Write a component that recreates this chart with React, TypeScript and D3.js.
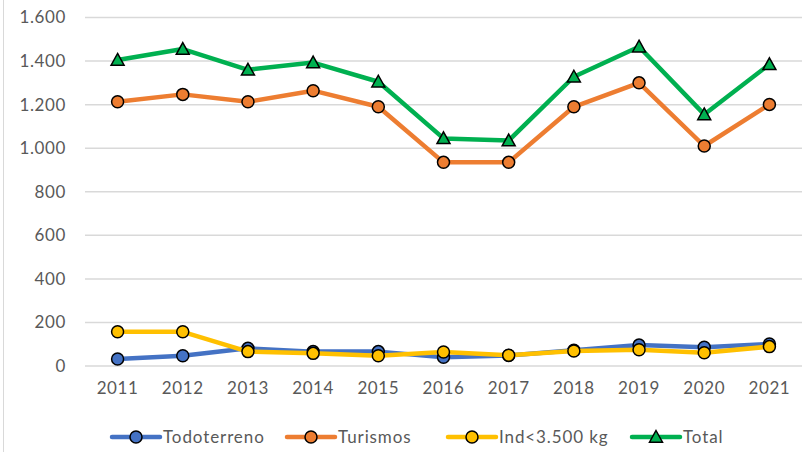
import React from "react";
import * as d3 from "d3";

const years = ["2011","2012","2013","2014","2015","2016","2017","2018","2019","2020","2021"];
const todoterreno = [32, 47, 81, 66, 66, 40, 48, 72, 96, 86, 101];
const turismos = [1213, 1247, 1213, 1264, 1190, 935, 935, 1190, 1300, 1010, 1201];
const ind3500 = [157, 157, 66, 58, 47, 64, 49, 69, 75, 61, 89];
const total = [1405, 1455, 1360, 1393, 1305, 1045, 1035, 1328, 1466, 1155, 1385];
const yTicks = [0, 200, 400, 600, 800, 1000, 1200, 1400, 1600];

const seriesList = [
  { name: "Todoterreno", values: todoterreno, color: "#4472C4", marker: "circle" },
  { name: "Turismos", values: turismos, color: "#ED7D31", marker: "circle" },
  { name: "Ind<3.500 kg", values: ind3500, color: "#FFC000", marker: "circle" },
  { name: "Total", values: total, color: "#00B050", marker: "triangle" },
];
const legendX = [112, 287, 448, 632];

const W = 808, H = 452;
const left = 85, right = 802, top = 17.5, bottom = 366;
const FONT = "Lato, 'Open Sans', sans-serif";
const TXT = "#595959";

function fmt(v: number) {
  return d3.format(",")(v).replace(/,/g, ".");
}

function Marker({ type, x, y, color }: { type: string; x: number; y: number; color: string }) {
  if (type === "triangle") {
    const s = 6.5;
    const p = `M${x},${y - s} L${x + s},${y + s * 0.8} L${x - s},${y + s * 0.8} Z`;
    return <path d={p} fill={color} stroke="#000" strokeWidth={1.5} strokeLinejoin="miter" />;
  }
  return <circle cx={x} cy={y} r={6} fill={color} stroke="#000" strokeWidth={1.5} />;
}

export default function App() {
  const x = d3.scaleBand().domain(years).range([left, right]).padding(0);
  const y = d3.scaleLinear().domain([0, 1600]).range([bottom, top]);
  const cx = (yr: string) => (x(yr) as number) + x.bandwidth() / 2;
  const line = d3
    .line<number>()
    .x((_, i) => cx(years[i]))
    .y((d) => y(d));

  return (
    <svg
      width={W}
      height={H}
      style={{ position: "absolute", left: 0, top: 0, background: "#fff" }}
      fontFamily={FONT}
    >
      <rect x={0} y={0} width={W} height={H} fill="#fff" />
      <line x1={3.5} x2={3.5} y1={0} y2={H} stroke="#d9d9d9" strokeWidth={1} />
      {yTicks.map((t) => (
        <g key={t}>
          <line x1={left} x2={right} y1={y(t)} y2={y(t)} stroke="#d9d9d9" strokeWidth={1.5} />
          <text x={66} y={y(t)} dy="0.35em" textAnchor="end" fontSize={17} letterSpacing={0.6} fill={TXT}>
            {fmt(t)}
          </text>
        </g>
      ))}
      {years.map((yr) => (
        <text key={yr} x={cx(yr)} y={388} dy="0.35em" textAnchor="middle" fontSize={17} letterSpacing={0.6} fill={TXT}>
          {yr}
        </text>
      ))}
      {seriesList.map((s) => (
        <g key={s.name}>
          <path d={line(s.values) || ""} fill="none" stroke={s.color} strokeWidth={4.5} strokeLinejoin="round" />
          {s.values.map((v, i) => (
            <Marker key={i} type={s.marker} x={cx(years[i])} y={y(v)} color={s.color} />
          ))}
        </g>
      ))}
      {seriesList.map((s, i) => {
        const lx = legendX[i];
        const ly = 437;
        return (
          <g key={s.name}>
            <line x1={lx} x2={lx + 48} y1={ly} y2={ly} stroke={s.color} strokeWidth={4.5} strokeLinecap="round" />
            <Marker type={s.marker} x={lx + 24} y={ly} color={s.color} />
            <text x={lx + 51} y={ly} dy="0.35em" fontSize={17} letterSpacing={0.9} fill={TXT}>
              {s.name}
            </text>
          </g>
        );
      })}
    </svg>
  );
}
